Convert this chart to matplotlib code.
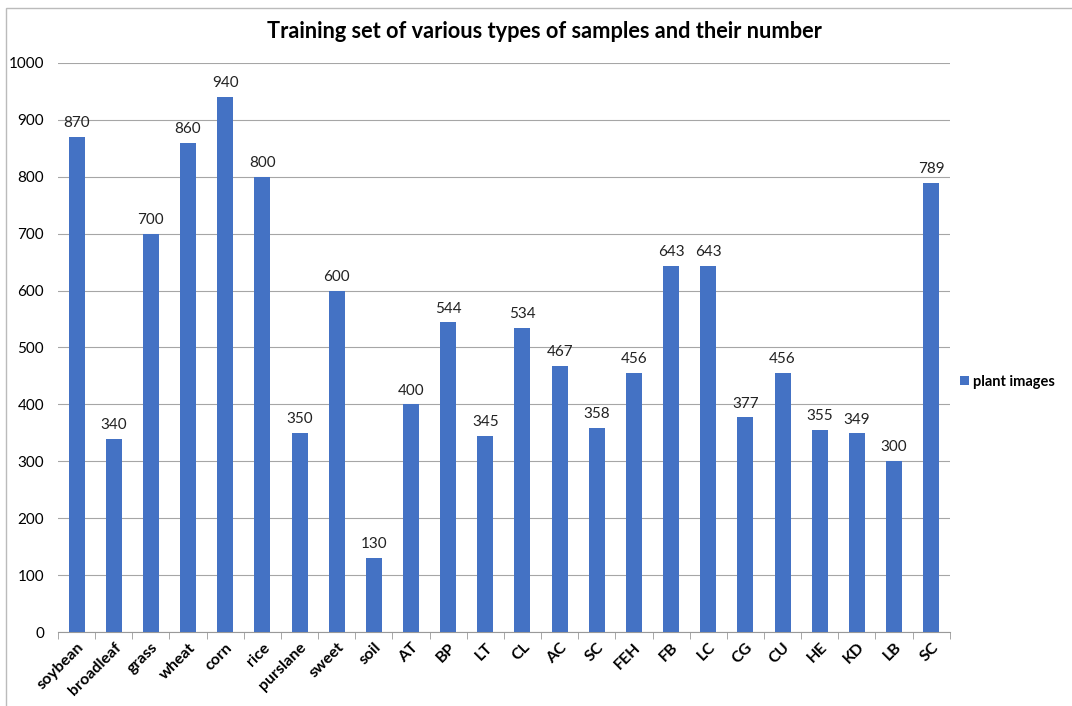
import numpy as np
import matplotlib.pyplot as plt
from matplotlib.patches import Rectangle

categories = ['soybean', 'broadleaf', 'grass', 'wheat', 'corn', 'rice', 'purslane', 'sweet',
              'soil', 'AT', 'BP', 'LT', 'CL', 'AC', 'SC', 'FEH', 'FB', 'LC', 'CG', 'CU',
              'HE', 'KD', 'LB', 'SC']
counts = [870, 340, 700, 860, 940, 800, 350, 600, 130, 400, 544, 345, 534, 467, 358,
          456, 643, 643, 377, 456, 355, 349, 300, 789]

plt.rcParams['font.family'] = ['Lato', 'DejaVu Sans']

fig = plt.figure(figsize=(10.72, 7.06), dpi=100)
ax = fig.add_axes([0.0541, 0.1048, 0.8319, 0.806])

x = np.arange(len(categories))
bars = ax.bar(x, counts, width=0.43, color='#4472C4', label='plant images', zorder=3)

for xi, v in zip(x, counts):
    ax.text(xi, v + 12, str(v), ha='center', va='bottom', fontsize=11, color='#222222')

ax.set_xlim(-0.5, len(categories) - 0.5)
ax.set_ylim(0, 1000)
ax.set_yticks(np.arange(0, 1001, 100))
ax.tick_params(axis='y', length=0, labelsize=11, pad=10)
ax.set_xticks(x)
ax.set_xticklabels(categories, rotation=45, ha='right', rotation_mode='anchor',
                   fontsize=11.5, fontweight='bold')
ax.tick_params(axis='x', length=0, pad=6)
# tick marks between categories
ax.set_xticks(np.arange(-0.5, len(categories), 1), minor=True)
ax.tick_params(axis='x', which='minor', length=5, color='#999999')

ax.grid(axis='y', color='#a6a6a6', linewidth=0.8, zorder=0)
for s in ['top', 'right', 'left']:
    ax.spines[s].set_visible(False)
ax.spines['bottom'].set_color('#999999')

fig.text(0.508, 0.955, 'Training set of various types of samples and their number',
         ha='center', va='center', fontsize=15.7, fontweight='bold')

ax.legend(loc='center left', bbox_to_anchor=(1.0, 0.44), frameon=False,
          handlelength=0.6, handleheight=0.6, handletextpad=0.3, borderaxespad=0.3,
          prop={'size': 10.5, 'weight': 'bold'})

# outer chart frame
fig.patches.append(Rectangle((0.0056, -0.01), 1.1, 0.9986, transform=fig.transFigure,
                             fill=False, edgecolor='#bbbbbb', linewidth=1))

fig.savefig('out.png', dpi=100)
